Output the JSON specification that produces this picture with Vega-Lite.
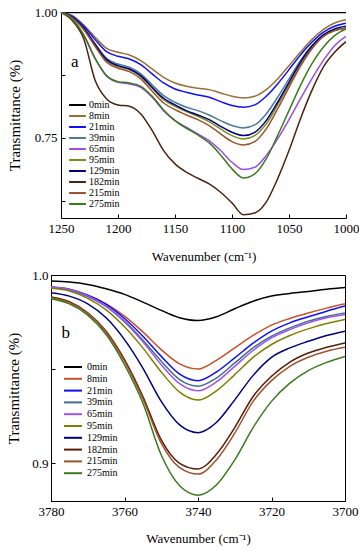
{
"$schema":"https://vega.github.io/schema/vega-lite/v6.json",
"padding":{"left":6,"top":6,"right":0,"bottom":0},
"background":"white",
"columns":1,
"spacing":5,
"datasets":{
"a":[
{"series":"0min","wn":1250,"T":0.999},{"series":"0min","wn":1240,"T":0.999},{"series":"0min","wn":1230,"T":0.999},{"series":"0min","wn":1220,"T":0.999},{"series":"0min","wn":1210,"T":0.999},{"series":"0min","wn":1200,"T":0.999},{"series":"0min","wn":1190,"T":0.999},{"series":"0min","wn":1180,"T":0.999},{"series":"0min","wn":1170,"T":0.999},{"series":"0min","wn":1160,"T":0.999},{"series":"0min","wn":1150,"T":0.999},{"series":"0min","wn":1140,"T":0.999},{"series":"0min","wn":1130,"T":0.999},{"series":"0min","wn":1120,"T":0.999},{"series":"0min","wn":1110,"T":0.999},{"series":"0min","wn":1100,"T":0.999},{"series":"0min","wn":1090,"T":0.999},{"series":"0min","wn":1080,"T":0.999},{"series":"0min","wn":1070,"T":0.999},{"series":"0min","wn":1060,"T":0.999},{"series":"0min","wn":1050,"T":0.999},{"series":"0min","wn":1040,"T":0.999},{"series":"0min","wn":1030,"T":0.999},{"series":"0min","wn":1020,"T":0.999},{"series":"0min","wn":1010,"T":0.999},{"series":"0min","wn":1000,"T":0.999},
{"series":"8min","wn":1250,"T":0.9993},{"series":"8min","wn":1240,"T":0.9927},{"series":"8min","wn":1230,"T":0.9742},{"series":"8min","wn":1220,"T":0.9497},{"series":"8min","wn":1210,"T":0.9279},{"series":"8min","wn":1200,"T":0.92},{"series":"8min","wn":1190,"T":0.9147},{"series":"8min","wn":1180,"T":0.9034},{"series":"8min","wn":1170,"T":0.8869},{"series":"8min","wn":1160,"T":0.8704},{"series":"8min","wn":1150,"T":0.8591},{"series":"8min","wn":1140,"T":0.8525},{"series":"8min","wn":1130,"T":0.8485},{"series":"8min","wn":1120,"T":0.8459},{"series":"8min","wn":1110,"T":0.8393},{"series":"8min","wn":1100,"T":0.8327},{"series":"8min","wn":1090,"T":0.8294},{"series":"8min","wn":1080,"T":0.8327},{"series":"8min","wn":1070,"T":0.8459},{"series":"8min","wn":1060,"T":0.8671},{"series":"8min","wn":1050,"T":0.8935},{"series":"8min","wn":1040,"T":0.92},{"series":"8min","wn":1030,"T":0.9451},{"series":"8min","wn":1020,"T":0.9649},{"series":"8min","wn":1010,"T":0.9782},{"series":"8min","wn":1000,"T":0.9848},
{"series":"21min","wn":1250,"T":0.9993},{"series":"21min","wn":1240,"T":0.9914},{"series":"21min","wn":1230,"T":0.9716},{"series":"21min","wn":1220,"T":0.9451},{"series":"21min","wn":1210,"T":0.9213},{"series":"21min","wn":1200,"T":0.912},{"series":"21min","wn":1190,"T":0.9067},{"series":"21min","wn":1180,"T":0.8955},{"series":"21min","wn":1170,"T":0.877},{"series":"21min","wn":1160,"T":0.8591},{"series":"21min","wn":1150,"T":0.8472},{"series":"21min","wn":1140,"T":0.8406},{"series":"21min","wn":1130,"T":0.8353},{"series":"21min","wn":1120,"T":0.8307},{"series":"21min","wn":1110,"T":0.8221},{"series":"21min","wn":1100,"T":0.8142},{"series":"21min","wn":1090,"T":0.8108},{"series":"21min","wn":1080,"T":0.8155},{"series":"21min","wn":1070,"T":0.8327},{"series":"21min","wn":1060,"T":0.8571},{"series":"21min","wn":1050,"T":0.8856},{"series":"21min","wn":1040,"T":0.9147},{"series":"21min","wn":1030,"T":0.9398},{"series":"21min","wn":1020,"T":0.9597},{"series":"21min","wn":1010,"T":0.9716},{"series":"21min","wn":1000,"T":0.9775},
{"series":"39min","wn":1250,"T":0.9993},{"series":"39min","wn":1240,"T":0.9894},{"series":"39min","wn":1230,"T":0.9676},{"series":"39min","wn":1220,"T":0.9365},{"series":"39min","wn":1210,"T":0.9081},{"series":"39min","wn":1200,"T":0.8968},{"series":"39min","wn":1190,"T":0.8902},{"series":"39min","wn":1180,"T":0.877},{"series":"39min","wn":1170,"T":0.8552},{"series":"39min","wn":1160,"T":0.834},{"series":"39min","wn":1150,"T":0.8208},{"series":"39min","wn":1140,"T":0.8108},{"series":"39min","wn":1130,"T":0.8042},{"series":"39min","wn":1120,"T":0.7956},{"series":"39min","wn":1110,"T":0.7844},{"series":"39min","wn":1100,"T":0.7745},{"series":"39min","wn":1090,"T":0.7698},{"series":"39min","wn":1080,"T":0.7758},{"series":"39min","wn":1070,"T":0.7976},{"series":"39min","wn":1060,"T":0.8307},{"series":"39min","wn":1050,"T":0.8671},{"series":"39min","wn":1040,"T":0.9034},{"series":"39min","wn":1030,"T":0.9332},{"series":"39min","wn":1020,"T":0.953},{"series":"39min","wn":1010,"T":0.963},{"series":"39min","wn":1000,"T":0.9676},
{"series":"65min","wn":1250,"T":0.9993},{"series":"65min","wn":1240,"T":0.9848},{"series":"65min","wn":1230,"T":0.953},{"series":"65min","wn":1220,"T":0.9067},{"series":"65min","wn":1210,"T":0.8724},{"series":"65min","wn":1200,"T":0.8604},{"series":"65min","wn":1190,"T":0.8571},{"series":"65min","wn":1180,"T":0.8505},{"series":"65min","wn":1170,"T":0.8307},{"series":"65min","wn":1160,"T":0.8042},{"series":"65min","wn":1150,"T":0.7844},{"series":"65min","wn":1140,"T":0.7712},{"series":"65min","wn":1130,"T":0.7579},{"series":"65min","wn":1120,"T":0.7447},{"series":"65min","wn":1110,"T":0.7249},{"series":"65min","wn":1100,"T":0.7017},{"series":"65min","wn":1090,"T":0.6872},{"series":"65min","wn":1080,"T":0.6918},{"series":"65min","wn":1070,"T":0.7149},{"series":"65min","wn":1060,"T":0.748},{"series":"65min","wn":1050,"T":0.7864},{"series":"65min","wn":1040,"T":0.8274},{"series":"65min","wn":1030,"T":0.8671},{"series":"65min","wn":1020,"T":0.9034},{"series":"65min","wn":1010,"T":0.9332},{"series":"65min","wn":1000,"T":0.9517},
{"series":"95min","wn":1250,"T":0.9993},{"series":"95min","wn":1240,"T":0.9888},{"series":"95min","wn":1230,"T":0.9663},{"series":"95min","wn":1220,"T":0.9332},{"series":"95min","wn":1210,"T":0.9034},{"series":"95min","wn":1200,"T":0.8915},{"series":"95min","wn":1190,"T":0.8856},{"series":"95min","wn":1180,"T":0.8717},{"series":"95min","wn":1170,"T":0.8485},{"series":"95min","wn":1160,"T":0.8261},{"series":"95min","wn":1150,"T":0.8128},{"series":"95min","wn":1140,"T":0.8022},{"series":"95min","wn":1130,"T":0.793},{"series":"95min","wn":1120,"T":0.7824},{"series":"95min","wn":1110,"T":0.7679},{"series":"95min","wn":1100,"T":0.7546},{"series":"95min","wn":1090,"T":0.748},{"series":"95min","wn":1080,"T":0.7546},{"series":"95min","wn":1070,"T":0.7778},{"series":"95min","wn":1060,"T":0.8155},{"series":"95min","wn":1050,"T":0.8552},{"series":"95min","wn":1040,"T":0.8948},{"series":"95min","wn":1030,"T":0.9279},{"series":"95min","wn":1020,"T":0.9517},{"series":"95min","wn":1010,"T":0.963},{"series":"95min","wn":1000,"T":0.9676},
{"series":"129min","wn":1250,"T":0.9993},{"series":"129min","wn":1240,"T":0.9894},{"series":"129min","wn":1230,"T":0.9676},{"series":"129min","wn":1220,"T":0.9352},{"series":"129min","wn":1210,"T":0.9054},{"series":"129min","wn":1200,"T":0.8935},{"series":"129min","wn":1190,"T":0.8869},{"series":"129min","wn":1180,"T":0.8737},{"series":"129min","wn":1170,"T":0.8505},{"series":"129min","wn":1160,"T":0.8287},{"series":"129min","wn":1150,"T":0.8155},{"series":"129min","wn":1140,"T":0.8042},{"series":"129min","wn":1130,"T":0.7956},{"series":"129min","wn":1120,"T":0.7864},{"series":"129min","wn":1110,"T":0.7731},{"series":"129min","wn":1100,"T":0.7612},{"series":"129min","wn":1090,"T":0.7546},{"series":"129min","wn":1080,"T":0.7612},{"series":"129min","wn":1070,"T":0.7844},{"series":"129min","wn":1060,"T":0.8208},{"series":"129min","wn":1050,"T":0.8604},{"series":"129min","wn":1040,"T":0.9001},{"series":"129min","wn":1030,"T":0.9319},{"series":"129min","wn":1020,"T":0.9544},{"series":"129min","wn":1010,"T":0.9663},{"series":"129min","wn":1000,"T":0.9716},
{"series":"182min","wn":1250,"T":0.9993},{"series":"182min","wn":1240,"T":0.9828},{"series":"182min","wn":1230,"T":0.9464},{"series":"182min","wn":1220,"T":0.8638},{"series":"182min","wn":1210,"T":0.8274},{"series":"182min","wn":1200,"T":0.8155},{"series":"182min","wn":1190,"T":0.8128},{"series":"182min","wn":1180,"T":0.7976},{"series":"182min","wn":1170,"T":0.7646},{"series":"182min","wn":1160,"T":0.7249},{"series":"182min","wn":1150,"T":0.6984},{"series":"182min","wn":1140,"T":0.6819},{"series":"182min","wn":1130,"T":0.67},{"series":"182min","wn":1120,"T":0.6587},{"series":"182min","wn":1110,"T":0.6422},{"series":"182min","wn":1100,"T":0.621},{"series":"182min","wn":1090,"T":0.5975},{"series":"182min","wn":1080,"T":0.601},{"series":"182min","wn":1070,"T":0.6224},{"series":"182min","wn":1060,"T":0.6687},{"series":"182min","wn":1050,"T":0.7249},{"series":"182min","wn":1040,"T":0.7877},{"series":"182min","wn":1030,"T":0.8439},{"series":"182min","wn":1020,"T":0.8902},{"series":"182min","wn":1010,"T":0.92},{"series":"182min","wn":1000,"T":0.9411},
{"series":"215min","wn":1250,"T":0.9993},{"series":"215min","wn":1240,"T":0.9881},{"series":"215min","wn":1230,"T":0.9649},{"series":"215min","wn":1220,"T":0.9312},{"series":"215min","wn":1210,"T":0.9001},{"series":"215min","wn":1200,"T":0.8882},{"series":"215min","wn":1190,"T":0.8816},{"series":"215min","wn":1180,"T":0.8671},{"series":"215min","wn":1170,"T":0.8426},{"series":"215min","wn":1160,"T":0.8194},{"series":"215min","wn":1150,"T":0.8062},{"series":"215min","wn":1140,"T":0.7956},{"series":"215min","wn":1130,"T":0.7864},{"series":"215min","wn":1120,"T":0.7745},{"series":"215min","wn":1110,"T":0.7579},{"series":"215min","wn":1100,"T":0.7427},{"series":"215min","wn":1090,"T":0.7361},{"series":"215min","wn":1080,"T":0.7427},{"series":"215min","wn":1070,"T":0.7679},{"series":"215min","wn":1060,"T":0.8075},{"series":"215min","wn":1050,"T":0.8505},{"series":"215min","wn":1040,"T":0.8922},{"series":"215min","wn":1030,"T":0.9266},{"series":"215min","wn":1020,"T":0.9511},{"series":"215min","wn":1010,"T":0.963},{"series":"215min","wn":1000,"T":0.9676},
{"series":"275min","wn":1250,"T":0.9993},{"series":"275min","wn":1240,"T":0.9848},{"series":"275min","wn":1230,"T":0.9544},{"series":"275min","wn":1220,"T":0.9081},{"series":"275min","wn":1210,"T":0.8737},{"series":"275min","wn":1200,"T":0.8618},{"series":"275min","wn":1190,"T":0.8591},{"series":"275min","wn":1180,"T":0.8525},{"series":"275min","wn":1170,"T":0.8327},{"series":"275min","wn":1160,"T":0.8056},{"series":"275min","wn":1150,"T":0.7844},{"series":"275min","wn":1140,"T":0.7692},{"series":"275min","wn":1130,"T":0.756},{"series":"275min","wn":1120,"T":0.7401},{"series":"275min","wn":1110,"T":0.7163},{"series":"275min","wn":1100,"T":0.6885},{"series":"275min","wn":1090,"T":0.6706},{"series":"275min","wn":1080,"T":0.6786},{"series":"275min","wn":1070,"T":0.7083},{"series":"275min","wn":1060,"T":0.7546},{"series":"275min","wn":1050,"T":0.8042},{"series":"275min","wn":1040,"T":0.8538},{"series":"275min","wn":1030,"T":0.8968},{"series":"275min","wn":1020,"T":0.9299},{"series":"275min","wn":1010,"T":0.953},{"series":"275min","wn":1000,"T":0.9663}
],
"b":[
{"series":"0min","wn":3780,"T":0.9968},{"series":"0min","wn":3775,"T":0.9963},{"series":"0min","wn":3770,"T":0.995},{"series":"0min","wn":3765,"T":0.9927},{"series":"0min","wn":3760,"T":0.9897},{"series":"0min","wn":3755,"T":0.9856},{"series":"0min","wn":3750,"T":0.9812},{"series":"0min","wn":3745,"T":0.9773},{"series":"0min","wn":3740,"T":0.9758},{"series":"0min","wn":3735,"T":0.9778},{"series":"0min","wn":3730,"T":0.9821},{"series":"0min","wn":3725,"T":0.9861},{"series":"0min","wn":3720,"T":0.9888},{"series":"0min","wn":3715,"T":0.9902},{"series":"0min","wn":3710,"T":0.9913},{"series":"0min","wn":3705,"T":0.9924},{"series":"0min","wn":3700,"T":0.9933},
{"series":"8min","wn":3780,"T":0.9933},{"series":"8min","wn":3775,"T":0.9922},{"series":"8min","wn":3770,"T":0.9893},{"series":"8min","wn":3765,"T":0.9847},{"series":"8min","wn":3760,"T":0.9782},{"series":"8min","wn":3755,"T":0.9698},{"series":"8min","wn":3750,"T":0.9604},{"series":"8min","wn":3745,"T":0.9528},{"series":"8min","wn":3740,"T":0.9501},{"series":"8min","wn":3735,"T":0.9547},{"series":"8min","wn":3730,"T":0.9613},{"series":"8min","wn":3725,"T":0.9679},{"series":"8min","wn":3720,"T":0.9734},{"series":"8min","wn":3715,"T":0.9769},{"series":"8min","wn":3710,"T":0.9798},{"series":"8min","wn":3705,"T":0.9824},{"series":"8min","wn":3700,"T":0.9847},
{"series":"21min","wn":3780,"T":0.9936},{"series":"21min","wn":3775,"T":0.9925},{"series":"21min","wn":3770,"T":0.9893},{"series":"21min","wn":3765,"T":0.9844},{"series":"21min","wn":3760,"T":0.9769},{"series":"21min","wn":3755,"T":0.9675},{"series":"21min","wn":3750,"T":0.9568},{"series":"21min","wn":3745,"T":0.9474},{"series":"21min","wn":3740,"T":0.9439},{"series":"21min","wn":3735,"T":0.9485},{"series":"21min","wn":3730,"T":0.956},{"series":"21min","wn":3725,"T":0.9638},{"series":"21min","wn":3720,"T":0.9702},{"series":"21min","wn":3715,"T":0.9746},{"series":"21min","wn":3710,"T":0.9778},{"series":"21min","wn":3705,"T":0.9808},{"series":"21min","wn":3700,"T":0.9835},
{"series":"39min","wn":3780,"T":0.9933},{"series":"39min","wn":3775,"T":0.992},{"series":"39min","wn":3770,"T":0.9886},{"series":"39min","wn":3765,"T":0.9833},{"series":"39min","wn":3760,"T":0.9755},{"series":"39min","wn":3755,"T":0.9654},{"series":"39min","wn":3750,"T":0.9542},{"series":"39min","wn":3745,"T":0.9444},{"series":"39min","wn":3740,"T":0.9409},{"series":"39min","wn":3735,"T":0.9453},{"series":"39min","wn":3730,"T":0.9533},{"series":"39min","wn":3725,"T":0.9613},{"series":"39min","wn":3720,"T":0.9675},{"series":"39min","wn":3715,"T":0.9719},{"series":"39min","wn":3710,"T":0.9755},{"series":"39min","wn":3705,"T":0.978},{"series":"39min","wn":3700,"T":0.9799},
{"series":"65min","wn":3780,"T":0.9936},{"series":"65min","wn":3775,"T":0.9924},{"series":"65min","wn":3770,"T":0.989},{"series":"65min","wn":3765,"T":0.9833},{"series":"65min","wn":3760,"T":0.975},{"series":"65min","wn":3755,"T":0.9645},{"series":"65min","wn":3750,"T":0.9524},{"series":"65min","wn":3745,"T":0.9423},{"series":"65min","wn":3740,"T":0.9385},{"series":"65min","wn":3735,"T":0.9432},{"series":"65min","wn":3730,"T":0.9515},{"series":"65min","wn":3725,"T":0.9599},{"series":"65min","wn":3720,"T":0.9666},{"series":"65min","wn":3715,"T":0.971},{"series":"65min","wn":3710,"T":0.9746},{"series":"65min","wn":3705,"T":0.9773},{"series":"65min","wn":3700,"T":0.979},
{"series":"95min","wn":3780,"T":0.9929},{"series":"95min","wn":3775,"T":0.9915},{"series":"95min","wn":3770,"T":0.9876},{"series":"95min","wn":3765,"T":0.9815},{"series":"95min","wn":3760,"T":0.9725},{"series":"95min","wn":3755,"T":0.9613},{"series":"95min","wn":3750,"T":0.9485},{"series":"95min","wn":3745,"T":0.9378},{"series":"95min","wn":3740,"T":0.9336},{"series":"95min","wn":3735,"T":0.9385},{"series":"95min","wn":3730,"T":0.9471},{"series":"95min","wn":3725,"T":0.9563},{"series":"95min","wn":3720,"T":0.9631},{"series":"95min","wn":3715,"T":0.9679},{"series":"95min","wn":3710,"T":0.9714},{"series":"95min","wn":3705,"T":0.9742},{"series":"95min","wn":3700,"T":0.9764},
{"series":"129min","wn":3780,"T":0.9906},{"series":"129min","wn":3775,"T":0.9888},{"series":"129min","wn":3770,"T":0.9847},{"series":"129min","wn":3765,"T":0.9773},{"series":"129min","wn":3760,"T":0.9657},{"series":"129min","wn":3755,"T":0.9506},{"series":"129min","wn":3750,"T":0.9329},{"series":"129min","wn":3745,"T":0.9204},{"series":"129min","wn":3740,"T":0.9163},{"series":"129min","wn":3735,"T":0.9217},{"series":"129min","wn":3730,"T":0.9337},{"series":"129min","wn":3725,"T":0.9467},{"series":"129min","wn":3720,"T":0.9563},{"series":"129min","wn":3715,"T":0.9613},{"series":"129min","wn":3710,"T":0.9648},{"series":"129min","wn":3705,"T":0.9679},{"series":"129min","wn":3700,"T":0.9702},
{"series":"182min","wn":3780,"T":0.9883},{"series":"182min","wn":3775,"T":0.9858},{"series":"182min","wn":3770,"T":0.9799},{"series":"182min","wn":3765,"T":0.9702},{"series":"182min","wn":3760,"T":0.9551},{"series":"182min","wn":3755,"T":0.9355},{"series":"182min","wn":3750,"T":0.9124},{"series":"182min","wn":3745,"T":0.9},{"series":"182min","wn":3740,"T":0.897},{"series":"182min","wn":3735,"T":0.9048},{"series":"182min","wn":3730,"T":0.919},{"series":"182min","wn":3725,"T":0.9355},{"series":"182min","wn":3720,"T":0.9462},{"series":"182min","wn":3715,"T":0.9538},{"series":"182min","wn":3710,"T":0.9586},{"series":"182min","wn":3705,"T":0.9616},{"series":"182min","wn":3700,"T":0.9639},
{"series":"215min","wn":3780,"T":0.9879},{"series":"215min","wn":3775,"T":0.9854},{"series":"215min","wn":3770,"T":0.9796},{"series":"215min","wn":3765,"T":0.9696},{"series":"215min","wn":3760,"T":0.9542},{"series":"215min","wn":3755,"T":0.9343},{"series":"215min","wn":3750,"T":0.9107},{"series":"215min","wn":3745,"T":0.8977},{"series":"215min","wn":3740,"T":0.8943},{"series":"215min","wn":3735,"T":0.9018},{"series":"215min","wn":3730,"T":0.916},{"series":"215min","wn":3725,"T":0.9329},{"series":"215min","wn":3720,"T":0.9439},{"series":"215min","wn":3715,"T":0.9515},{"series":"215min","wn":3710,"T":0.9563},{"series":"215min","wn":3705,"T":0.9595},{"series":"215min","wn":3700,"T":0.9616},
{"series":"275min","wn":3780,"T":0.9874},{"series":"275min","wn":3775,"T":0.9847},{"series":"275min","wn":3770,"T":0.9787},{"series":"275min","wn":3765,"T":0.9684},{"series":"275min","wn":3760,"T":0.9524},{"series":"275min","wn":3755,"T":0.932},{"series":"275min","wn":3750,"T":0.9044},{"series":"275min","wn":3745,"T":0.8881},{"series":"275min","wn":3740,"T":0.8831},{"series":"275min","wn":3735,"T":0.8885},{"series":"275min","wn":3730,"T":0.9018},{"series":"275min","wn":3725,"T":0.919},{"series":"275min","wn":3720,"T":0.9329},{"series":"275min","wn":3715,"T":0.9426},{"series":"275min","wn":3710,"T":0.9492},{"series":"275min","wn":3705,"T":0.9536},{"series":"275min","wn":3700,"T":0.9568}
]
},
"concat":[
{
"width":295,"height":206,
"view":{"stroke":null},
"layer":[
{"data":{"name":"a"},
"mark":{"type":"line","strokeWidth":1.5,"interpolate":"monotone","clip":true},
"encoding":{
"x":{"field":"wn","type":"quantitative","title":"Wavenumber (cm⁻¹)","scale":{"domain":[1250,1000],"range":[10,295],"nice":false,"zero":false},
"axis":{"values":[1250,1225,1200,1175,1150,1125,1100,1075,1050,1025,1000],"labelExpr":"datum.value % 50 === 0 ? datum.label : ''","format":"d","labelPadding":8,"titlePadding":15}},
"y":{"field":"T","type":"quantitative","title":"Transmittance (%)","scale":{"domain":[0.591,1.0],"nice":false,"zero":false},
"axis":{"values":[0.625,0.75,0.875,1.0],"format":".2f","labelExpr":"(datum.value === 0.75 || datum.value === 1) ? datum.label : ''","titleFontSize":15,"labelPadding":8,"titlePadding":12,"offset":-10}},
"color":{"field":"series","type":"nominal","scale":{"domain":["0min","8min","21min","39min","65min","95min","129min","182min","215min","275min"],"range":["#000000","#96703A","#1010F0","#4A7A96","#9B4DE6","#7A8C1E","#00007F","#4B2410","#A0522D","#3C7A1E"]},
"legend":{"orient":"none","legendX":21.5,"legendY":88,"title":null,"rowPadding":1,"symbolSize":64,"symbolType":"M-2.1,0H2.1","labelOffset":6.5,"labelFont":"Liberation Serif","labelFontSize":10}},
"order":{"field":"wn","type":"quantitative","sort":"descending"}
}},
{"mark":{"type":"rule","color":"black","strokeWidth":1},
"encoding":{"x":{"datum":1250,"type":"quantitative","title":"Wavenumber (cm⁻¹)"},"x2":{"datum":1000},"y":{"datum":1.0,"type":"quantitative","title":"Transmittance (%)"}}},
{"mark":{"type":"rule","color":"black","strokeWidth":1},
"encoding":{"x":{"datum":1000,"type":"quantitative","title":"Wavenumber (cm⁻¹)"},"y":{"datum":1.0,"type":"quantitative","title":"Transmittance (%)"},"y2":{"datum":0.591}}},
{"data":{"values":[{"label":"a","wn":1238,"T":0.9}]},
"mark":{"type":"text","font":"Liberation Serif","fontSize":17,"baseline":"middle","align":"center","color":"black"},
"encoding":{"x":{"field":"wn","type":"quantitative","title":"Wavenumber (cm⁻¹)"},"y":{"field":"T","type":"quantitative","title":"Transmittance (%)"},"text":{"field":"label"}}}
]
},
{
"width":294,"height":226,
"layer":[
{"data":{"name":"b"},
"mark":{"type":"line","strokeWidth":1.5,"interpolate":"monotone","clip":true},
"encoding":{
"x":{"field":"wn","type":"quantitative","title":"Wavenumber (cm⁻¹)","scale":{"domain":[3780,3700],"nice":false,"zero":false},
"axis":{"values":[3780,3775,3770,3765,3760,3755,3750,3745,3740,3735,3730,3725,3720,3715,3710,3705,3700],"labelExpr":"datum.value % 10 === 0 ? datum.label : ''","format":"d","labelPadding":8,"titlePadding":14}},
"y":{"field":"T","type":"quantitative","title":"Transmittance (%)","scale":{"domain":[0.88,1.0],"nice":false,"zero":false},
"axis":{"values":[0.9,0.95,1.0],"format":".1f","labelExpr":"abs(datum.value - 0.95) < 0.001 ? '' : datum.label","titleFontSize":15,"labelPadding":7,"titlePadding":10}},
"color":{"field":"series","type":"nominal","scale":{"domain":["0min","8min","21min","39min","65min","95min","129min","182min","215min","275min"],"range":["#000000","#C8502A","#1010F0","#3F6F8F","#A050F0","#808000","#000080","#5A1A0A","#A0522D","#3A7A1A"]},
"legend":{"orient":"none","legendX":17,"legendY":87,"title":null,"rowPadding":1.8,"symbolSize":64,"symbolType":"M-2.25,0H2.25","labelOffset":9,"labelFont":"Liberation Serif","labelFontSize":10}},
"order":{"field":"wn","type":"quantitative","sort":"descending"}
}},
{"data":{"values":[{"label":"b","wn":3776,"T":0.969}]},
"mark":{"type":"text","font":"Liberation Serif","fontSize":17,"baseline":"middle","align":"center","color":"black"},
"encoding":{"x":{"field":"wn","type":"quantitative","title":"Wavenumber (cm⁻¹)"},"y":{"field":"T","type":"quantitative","title":"Transmittance (%)"},"text":{"field":"label"}}}
]
}
],
"resolve":{"scale":{"color":"independent"}},
"config":{
"font":"Liberation Serif",
"view":{"stroke":"black","strokeWidth":1},
"axis":{"grid":false,"domainColor":"black","tickColor":"black","labelColor":"black","titleColor":"black","labelFont":"Liberation Serif","titleFont":"Liberation Serif","labelFontSize":13,"titleFontSize":13,"titleFontWeight":"normal","tickSize":-4,"labelOverlap":false,"labelFlush":false},
"legend":{"symbolStrokeWidth":2,"labelFont":"Liberation Serif","labelFontSize":10,"labelColor":"black","padding":0}
}
}
